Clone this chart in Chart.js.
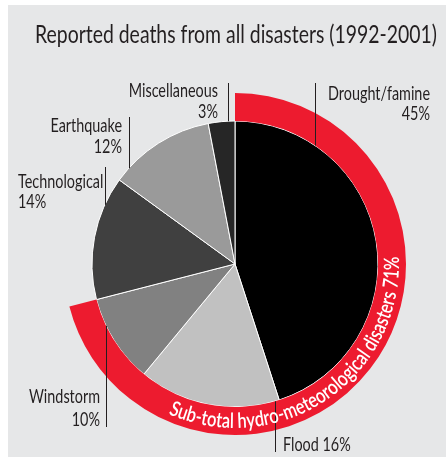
<!DOCTYPE html>
<html lang="en">
<head>
  <meta charset="UTF-8">
  <title>Reported deaths from all disasters</title>
  <script src="https://cdn.jsdelivr.net/npm/chart.js"></script>
  <style>
    body {
      margin: 0;
      background: #ffffff;
    }

    .wrap {
      position: relative;
      width: 446px;
      height: 457px;
    }

    .panel {
      position: absolute;
      left: 8px;
      top: 5px;
      right: 0;
      bottom: 0;
      background: #e6e7e8;
    }

    .wrap canvas {
      position: absolute;
      left: 0;
      top: 0;
    }
  </style>
</head>
<body>
  <div class="wrap">
    <div class="panel"></div>
    <canvas id="disasterChart" width="446" height="457"></canvas>
  </div>

  <script>
    // Share of reported deaths, 1992-2001 (clockwise from 12 o'clock)
    const categories = ['Drought/famine', 'Flood', 'Windstorm', 'Technological', 'Earthquake', 'Miscellaneous'];
    const shares = [45, 16, 10, 14, 12, 3];
    const hydroGroup = ['Drought/famine', 'Flood', 'Windstorm'];

    const titleText = 'Reported deaths from all disasters (1992-2001)';
    const sliceColors = ['#000000', '#c1c1c1', '#818181', '#404040', '#9a9a9a', '#262626'];
    const red = '#ed1b2f';
    const ink = '#231f20';
    const family = 'Lato, "DejaVu Sans", sans-serif';

    const hydroTotal = shares.reduce((s, v, i) => hydroGroup.includes(categories[i]) ? s + v : s, 0);
    const total = shares.reduce((a, b) => a + b, 0);

    // where each leader line leaves its slice (fraction of the slice angle),
    // how far it runs, and where its caption sits
    const labelLayout = [
      { frac: 0.21, lineEnd: 83, x: 430, y: 100, align: 'right', gap: 20 },
      { frac: 0.03, lineEnd: 452, x: 283, y: 451, align: 'left', inline: true },
      { frac: 0.69, lineEnd: 427, x: 100, y: 403, align: 'right', gap: 23 },
      { frac: 0.77, lineEnd: 167, x: 18, y: 188, align: 'left', gap: 20 },
      { frac: 0.14, lineEnd: 117, x: 122, y: 132, align: 'right', gap: 21 },
      { frac: 0.74, lineEnd: 83, x: 218, y: 97, align: 'right', gap: 21 }
    ];

    // condensed text: squeeze horizontally by sx
    function squeezed(ctx, str, x, y, align, sx) {
      ctx.save();
      ctx.translate(x, y);
      ctx.scale(sx, 1);
      ctx.textAlign = align;
      ctx.fillText(str, 0, 0);
      ctx.restore();
    }

    const calloutPlugin = {
      id: 'callouts',
      afterDatasetsDraw(chart) {
        const ctx = chart.ctx;
        const arcs = chart.getDatasetMeta(1).data;
        ctx.save();
        ctx.textBaseline = 'alphabetic';

        // title
        ctx.fillStyle = ink;
        ctx.font = '400 25px ' + family;
        const titleSx = 402 / ctx.measureText(titleText).width;
        squeezed(ctx, titleText, 35, 43, 'left', titleSx);

        // leader lines
        ctx.strokeStyle = ink;
        ctx.lineWidth = 1;
        arcs.forEach((arc, i) => {
          const lay = labelLayout[i];
          const a = arc.startAngle + (arc.endAngle - arc.startAngle) * lay.frac;
          const px = Math.round(arc.x + arc.outerRadius * Math.cos(a)) + 0.5;
          const py = arc.y + arc.outerRadius * Math.sin(a);
          ctx.beginPath();
          ctx.moveTo(px, py);
          ctx.lineTo(px, lay.lineEnd);
          ctx.stroke();
        });

        // captions
        ctx.font = '400 20px ' + family;
        const sx = 102 / ctx.measureText('Drought/famine').width;
        categories.forEach((name, i) => {
          const lay = labelLayout[i];
          if (lay.inline) {
            squeezed(ctx, name + ' ' + shares[i] + '%', lay.x, lay.y, lay.align, sx);
          } else {
            squeezed(ctx, name, lay.x, lay.y, lay.align, sx);
            squeezed(ctx, shares[i] + '%', lay.x, lay.y + lay.gap, lay.align, sx);
          }
        });

        // subtotal text running round the red band
        const ring = chart.getDatasetMeta(0).data[0];
        const text = 'Sub-total hydro-meteorological disasters ' + hydroTotal + '%';
        const r = ring.outerRadius - 7;
        const startA = 114 * Math.PI / 180;
        const endA = -2 * Math.PI / 180;
        ctx.font = '600 21px ' + family;
        ctx.fillStyle = '#ffffff';
        ctx.textAlign = 'center';
        const arcSx = (startA - endA) * r / ctx.measureText(text).width;
        let theta = startA;
        for (const ch of text) {
          const w = ctx.measureText(ch).width * arcSx;
          const mid = theta - (w / 2) / r;
          ctx.save();
          ctx.translate(ring.x + r * Math.cos(mid), ring.y + r * Math.sin(mid));
          ctx.rotate(mid - Math.PI / 2);
          ctx.scale(arcSx, 1);
          ctx.fillText(ch, 0, 0);
          ctx.restore();
          theta -= w / r;
        }
        ctx.restore();
      }
    };

    new Chart(document.getElementById('disasterChart'), {
      type: 'pie',
      data: {
        labels: categories,
        datasets: [
          {
            // outer band: hydro-meteorological subtotal
            data: [hydroTotal, total - hydroTotal],
            backgroundColor: [red, 'rgba(0,0,0,0)'],
            borderWidth: 0,
            weight: 28
          },
          {
            data: shares,
            backgroundColor: sliceColors,
            borderColor: '#ffffff',
            borderWidth: 1,
            weight: 143
          }
        ]
      },
      options: {
        responsive: false,
        animation: false,
        radius: 171,
        layout: {
          padding: { left: 24, right: 0, top: 71, bottom: 0 }
        },
        plugins: {
          legend: { display: false },
          tooltip: { enabled: false }
        }
      },
      plugins: [calloutPlugin]
    });
  </script>
</body>
</html>
